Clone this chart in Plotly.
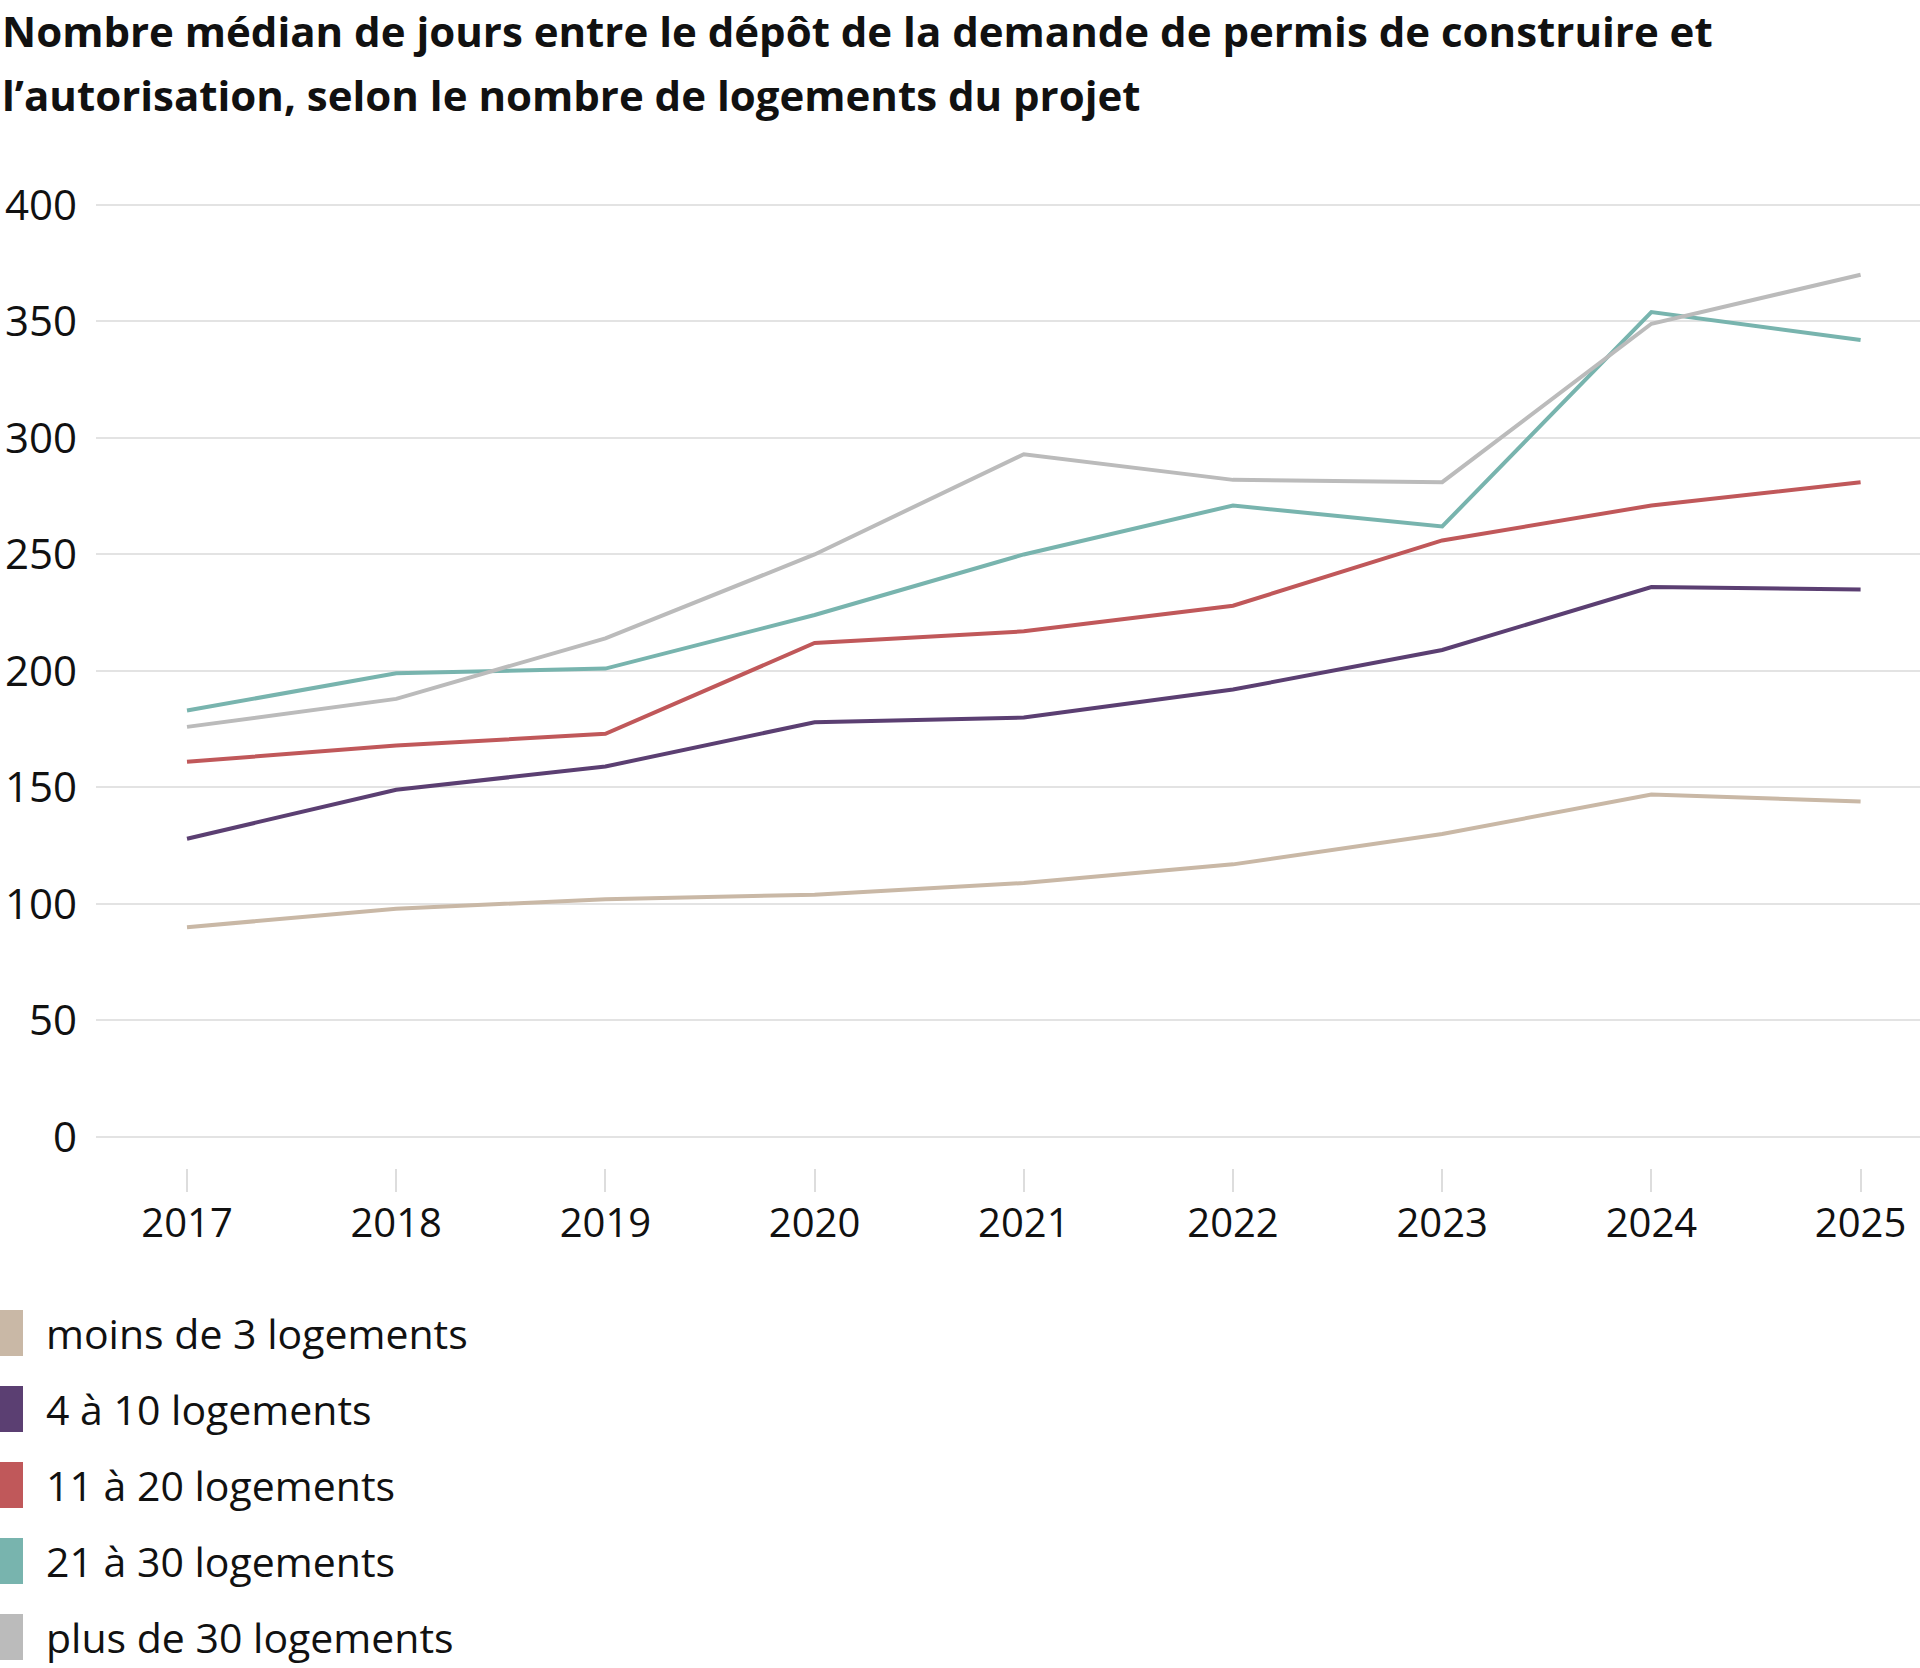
import plotly.graph_objects as go

# ---- data ----
years = [2017, 2018, 2019, 2020, 2021, 2022, 2023, 2024, 2025]
series_names = [
    "moins de 3 logements",
    "4 à 10 logements",
    "11 à 20 logements",
    "21 à 30 logements",
    "plus de 30 logements",
]
moins_3 = [90, 98, 102, 104, 109, 117, 130, 147, 144]
de_4_10 = [128, 149, 159, 178, 180, 192, 209, 236, 235]
de_11_20 = [161, 168, 173, 212, 217, 228, 256, 271, 281]
de_21_30 = [183, 199, 201, 224, 250, 271, 262, 354, 342]
plus_30 = [176, 188, 214, 250, 293, 282, 281, 349, 370]
y_ticks = [0, 50, 100, 150, 200, 250, 300, 350, 400]
title_lines = [
    "Nombre médian de jours entre le dépôt de la demande de permis de construire et",
    "l’autorisation, selon le nombre de logements du projet",
]

series_values = [moins_3, de_4_10, de_11_20, de_21_30, plus_30]
colors = ["#c9b8a6", "#5b3f72", "#c0585a", "#78b4ae", "#bbbbbb"]

W, H = 1920, 1668
ML, MR, MT, MB = 96, 0, 200, 500
PW = W - ML - MR
PH = H - MT - MB

FONT = "Open Sans"

fig = go.Figure()
for name, vals, col in zip(series_names, series_values, colors):
    fig.add_trace(go.Scatter(
        x=years, y=vals, name=name, mode="lines",
        line=dict(color=col, width=4),
        showlegend=False,
    ))


def px_x(px):
    return (px - ML) / PW


def px_y(py):
    return (H - MB - py) / PH


annotations = []
shapes = []

# title (two lines)
for line, cy in zip(title_lines, [31, 95]):
    annotations.append(dict(
        text="<b>" + line + "</b>", x=px_x(0), y=px_y(cy),
        xref="paper", yref="paper", xanchor="left", yanchor="middle",
        showarrow=False, font=dict(family=FONT, size=42, color="#111111"),
    ))

# legend (manual squares + labels)
row_centers = [1333, 1409, 1485, 1561, 1637]
for name, col, cy in zip(series_names, colors, row_centers):
    shapes.append(dict(
        type="rect", xref="paper", yref="paper",
        x0=px_x(0), x1=px_x(23), y0=px_y(cy - 23), y1=px_y(cy + 23),
        fillcolor=col, line=dict(width=0),
    ))
    annotations.append(dict(
        text=name, x=px_x(44), y=px_y(cy),
        xref="paper", yref="paper", xanchor="left", yanchor="middle",
        showarrow=False, font=dict(family=FONT, size=41, color="#111111"),
    ))

fig.update_layout(
    width=W, height=H,
    margin=dict(l=ML, r=MR, t=MT, b=MB),
    paper_bgcolor="white", plot_bgcolor="white",
    showlegend=False,
    annotations=annotations,
    shapes=shapes,
    xaxis=dict(
        range=[2016.565, 2025.284],
        tickvals=years, ticktext=[str(y) for y in years],
        showgrid=False, zeroline=False, showline=False,
        ticks="outside", ticklen=23, tickwidth=1.5, tickcolor="#dddddd",
        tickfont=dict(family=FONT, size=40, color="#111111"),
        ticklabelstandoff=-3,
    ),
    yaxis=dict(
        range=[-13.3, 402.1],
        tickvals=y_ticks,
        showgrid=True, gridcolor="#e3e3e3", gridwidth=1.6,
        zeroline=False, showline=False, ticks="",
        tickfont=dict(family=FONT, size=42, color="#111111"),
        ticklabelstandoff=18,
    ),
)

fig.write_html("out.html")
